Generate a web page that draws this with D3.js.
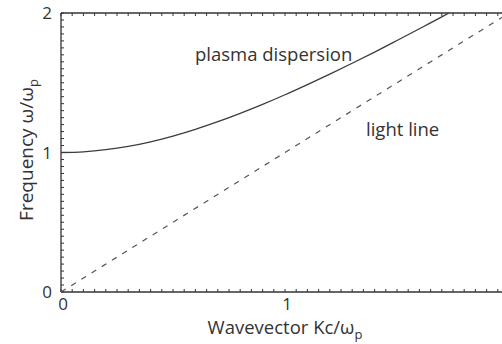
<!DOCTYPE html>
<html>
<head>
<meta charset="utf-8">
<script src="https://cdn.jsdelivr.net/npm/d3@7"></script>
<style>
  html, body { margin: 0; padding: 0; background: #fff; }
  svg { display: block; font-family: "Open Sans", sans-serif; }
</style>
</head>
<body>
<svg id="chart" width="502" height="344"></svg>
<script>
// Normalised wavevector Kc/ωp and frequency ω/ωp for the plasma branch
const plasmaK = [0, 0.1, 0.2, 0.3, 0.4, 0.5, 0.6, 0.7, 0.8, 0.9, 1.0, 1.1, 1.2, 1.3, 1.4, 1.5, 1.6, 1.7, 1.732];
const plasmaW = [1.000, 1.005, 1.020, 1.044, 1.077, 1.118, 1.166, 1.221, 1.281, 1.345, 1.414, 1.487, 1.562, 1.640, 1.720, 1.803, 1.887, 1.972, 2.000];
// Light line ω = ck
const lightK = [0, 2];
const lightW = [0, 2];
const xTickLabels = [0, 1];
const yTickLabels = [0, 1, 2];

const svg = d3.select("#chart");
const x = d3.scaleLinear().domain([0, 2]).range([61, 509]);
const y = d3.scaleLinear().domain([0, 2]).range([292, 13]);
const ink = "#333";

svg.append("clipPath").attr("id", "plot")
  .append("rect").attr("x", 61).attr("y", 13).attr("width", 448).attr("height", 279);

// Minor ticks every 0.05, pointing into the plot
const minor = d3.range(0, 2.0001, 0.05);
const g = svg.append("g");
g.selectAll(".xb").data(minor).join("line")
  .attr("x1", d => x(d)).attr("x2", d => x(d))
  .attr("y1", y(0)).attr("y2", y(0) - 3)
  .attr("stroke", ink).attr("stroke-width", 1);
g.selectAll(".xt").data(minor).join("line")
  .attr("x1", d => x(d)).attr("x2", d => x(d))
  .attr("y1", y(2)).attr("y2", y(2) + 3)
  .attr("stroke", ink).attr("stroke-width", 1);
g.selectAll(".yl").data(minor).join("line")
  .attr("x1", x(0)).attr("x2", x(0) + 3)
  .attr("y1", d => y(d)).attr("y2", d => y(d))
  .attr("stroke", ink).attr("stroke-width", 1);

// Frame lines
g.append("line").attr("x1", x(0)).attr("x2", 502).attr("y1", y(0)).attr("y2", y(0))
  .attr("stroke", ink).attr("stroke-width", 1.3);
g.append("line").attr("x1", x(0)).attr("x2", 502).attr("y1", y(2)).attr("y2", y(2))
  .attr("stroke", ink).attr("stroke-width", 1.3);
g.append("line").attr("x1", x(0)).attr("x2", x(0)).attr("y1", y(0)).attr("y2", y(2))
  .attr("stroke", ink).attr("stroke-width", 1.3);

// Tick labels
svg.selectAll(".xl").data(xTickLabels).join("text")
  .attr("x", d => x(d) + 2).attr("y", 310)
  .attr("text-anchor", "middle").attr("font-size", 17).attr("fill", ink)
  .text(d => d);
svg.selectAll(".ylab").data(yTickLabels).join("text")
  .attr("x", 52).attr("y", d => y(d) + 6)
  .attr("text-anchor", "end").attr("font-size", 17).attr("fill", ink)
  .text(d => d);

// Curves
const line = d3.line().x(d => x(d[0])).y(d => y(d[1]));
svg.append("path")
  .datum(plasmaK.map((k, i) => [k, plasmaW[i]]))
  .attr("d", line.curve(d3.curveMonotoneX))
  .attr("clip-path", "url(#plot)")
  .attr("fill", "none").attr("stroke", "#3c3c3c").attr("stroke-width", 1.3);
svg.append("path")
  .datum(lightK.map((k, i) => [k, lightW[i]]))
  .attr("d", d3.line().x(d => x(d[0])).y(d => y(d[1])))
  .attr("clip-path", "url(#plot)")
  .attr("fill", "none").attr("stroke", "#555").attr("stroke-width", 1.2)
  .attr("stroke-dasharray", "5.5,6.5");

// Annotations
svg.append("text").attr("x", 195).attr("y", 61).attr("font-size", 18.5).attr("fill", ink)
  .text("plasma dispersion");
svg.append("text").attr("x", 366).attr("y", 136).attr("font-size", 18.5).attr("fill", ink)
  .text("light line");

// Axis titles
const xt = svg.append("text").attr("x", 285).attr("y", 334)
  .attr("text-anchor", "middle").attr("font-size", 18.5).attr("fill", ink);
xt.append("tspan").text("Wavevector Kc/ω");
xt.append("tspan").attr("font-size", 13).attr("dy", 5).text("p");

const yt = svg.append("text")
  .attr("transform", "translate(33,150) rotate(-90)")
  .attr("text-anchor", "middle").attr("font-size", 19).attr("fill", ink);
yt.append("tspan").text("Frequency ω/ω");
yt.append("tspan").attr("font-size", 13).attr("dy", 5).text("p");
</script>
</body>
</html>
